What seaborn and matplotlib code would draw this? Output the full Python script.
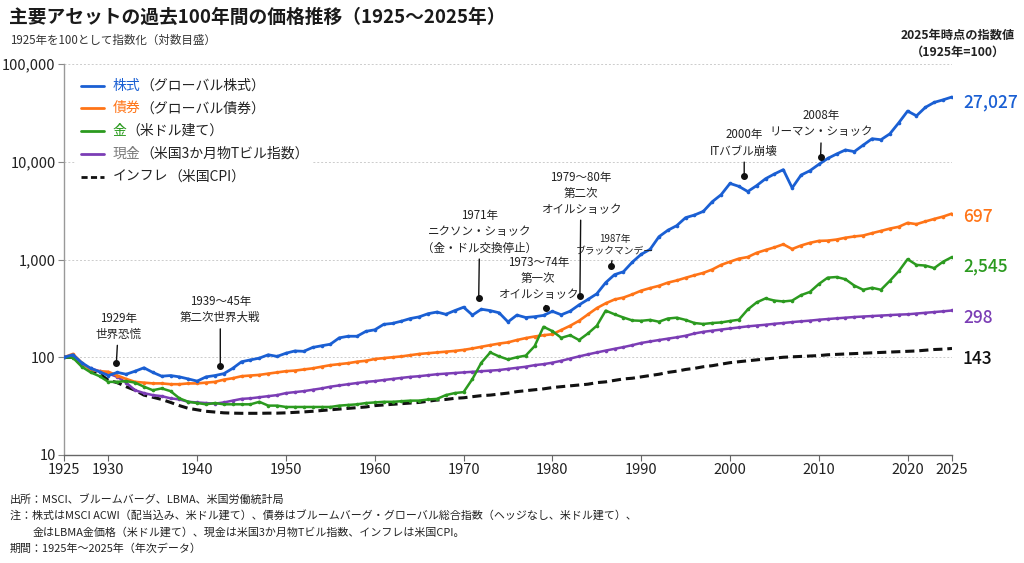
"""Major asset classes over 100 years, index 1925 = 100 (log scale)."""
import matplotlib

matplotlib.use("Agg")
import matplotlib.pyplot as plt
import matplotlib.ticker as mticker
import pandas as pd
import seaborn as sns
from matplotlib.lines import Line2D
from matplotlib.offsetbox import AnchoredOffsetbox, DrawingArea, HPacker, TextArea, VPacker

# --------------------------------------------------------------------------- #
# Data (annual points)
# --------------------------------------------------------------------------- #
years = list(range(1925, 2026))

stocks = [
    100, 106, 88, 77, 71, 65, 70, 67, 72, 78,
    70, 64, 65, 63, 60, 57, 63, 65, 68, 77,
    90, 94, 98, 106, 102, 110, 116, 115, 126, 131,
    136, 158, 164, 164, 184, 191, 217, 222, 234, 249,
    259, 279, 290, 275, 300, 325, 270, 310, 300, 285,
    230, 270, 255, 260, 268, 295, 272, 296, 343, 390,
    446, 580, 700, 750, 940, 1130, 1270, 1710, 1990, 2220,
    2680, 2850, 3110, 3900, 4600, 6000, 5600, 4960, 5700, 6700,
    7500, 8300, 5400, 7300, 8100, 9400, 10800, 12000, 13200, 12700,
    14800, 17200, 16800, 19300, 25000, 33000, 29500, 36000, 40500, 43000,
    46000,
]
bonds = [
    100, 108, 88, 74, 72, 71, 65, 60, 56, 55,
    54, 54, 53, 53, 54, 54, 55, 56, 59, 61,
    64, 65, 66, 68, 70, 72, 73, 75, 77, 80,
    83, 85, 87, 90, 92, 96, 98, 100, 102, 105,
    108, 110, 112, 114, 116, 119, 123, 128, 133, 138,
    142, 150, 157, 163, 168, 172, 190, 210, 236, 274,
    318, 356, 390, 408, 440, 480, 510, 538, 580, 610,
    650, 690, 730, 790, 880, 950, 1020, 1060, 1170, 1250,
    1330, 1430, 1280, 1390, 1480, 1550, 1560, 1600, 1670, 1720,
    1760, 1860, 1960, 2070, 2160, 2370, 2300, 2450, 2600, 2750,
    2950,
]
gold = [
    100, 99, 80, 70, 64, 56, 56, 57, 55, 50,
    46, 48, 45, 38, 35, 34, 33, 34, 33, 33,
    33, 33, 35, 32, 32, 31, 31, 31, 31, 31,
    31, 32, 32.5, 33, 34, 34.5, 35, 35, 35.5, 36,
    36, 37, 37.5, 41, 43, 44, 60, 88, 112, 102,
    95, 100, 104, 130, 205, 185, 158, 168, 150, 175,
    210, 300, 275, 255, 238, 236, 241, 231, 249, 254,
    241, 224, 219, 224, 227, 235, 242, 308, 364, 400,
    380, 372, 380, 432, 466, 561, 652, 662, 628, 541,
    490, 514, 490, 605, 758, 1008, 880, 867, 817, 950,
    1060,
]
cash = [
    100, 104, 84, 77, 72, 68, 63, 55, 46, 43,
    41, 40, 38, 37, 35, 34.5, 34, 33.5, 34.5, 36,
    37.5, 38, 39, 40, 41, 43, 44, 45, 46.5, 48,
    50, 51.5, 53, 54.5, 56, 57, 58.5, 60, 61.5, 63,
    64, 65.5, 67, 68, 69, 70, 71, 72, 73, 74,
    76, 78, 80, 83, 85, 88, 92, 97, 102, 107,
    112, 117, 122, 127, 133, 140, 145, 150, 155, 160,
    166, 175, 182, 187, 192, 197, 202, 207, 211, 215,
    220, 224, 229, 233, 237, 242, 246, 250, 254, 258,
    261, 264, 267, 270, 273, 275, 280, 285, 290, 295,
    301,
]
cpi = [
    100, 100, 84, 74, 68, 58, 55, 50, 46, 41,
    39, 37, 34.5, 32, 30, 29, 28, 27.5, 27, 26.8,
    26.7, 26.7, 26.7, 26.8, 26.8, 27, 27.3, 27.6, 28, 28.5,
    29, 29.5, 30, 30.5, 31, 32, 32.5, 33, 33.5, 34,
    34.5, 35.5, 36.5, 37, 38, 38.5, 39.5, 40.5, 41, 42,
    43, 44.5, 45.5, 46.5, 47.5, 49, 50, 51, 52, 53,
    55, 56, 58, 60, 61, 63, 65, 67, 70, 72,
    75, 77, 80, 82, 85, 88, 90, 92, 94, 96,
    98, 100, 101, 102, 103, 104, 106, 107, 108, 109,
    110, 111, 112, 113, 114, 115, 116, 118, 120, 121,
    123,
]

series_keys = ["cpi", "cash", "bonds", "gold", "stocks"]
series_values = {"stocks": stocks, "bonds": bonds, "gold": gold, "cash": cash, "cpi": cpi}

legend_keys = ["stocks", "bonds", "gold", "cash", "cpi"]
legend_words = ["株式", "債券", "金", "現金", "インフレ"]
legend_rest = ["（グローバル株式）", "（グローバル債券）", "（米ドル建て）",
               "（米国3か月物Tビル指数）", "（米国CPI）"]

# value labels printed at the right edge (as printed in the source)
end_labels = ["27,027", "697", "2,545", "298", "143"]

ann_labels = [
    "1929年\n世界恐慌",
    "1939〜45年\n第二次世界大戦",
    "1971年\nニクソン・ショック\n（金・ドル交換停止）",
    "1973〜74年\n第一次\nオイルショック",
    "1979〜80年\n第二次\nオイルショック",
    "1987年\nブラックマンデー",
    "2000年\nITバブル崩壊",
    "2008年\nリーマン・ショック",
]
ann_years = [1930.9, 1942.6, 1971.7, 1979.3, 1983.1, 1986.6, 2001.6, 2010.2]
ann_values = [88, 81, 400, 320, 428, 860, 7070, 11100]

x_major = [1925, 1930, 1940, 1950, 1960, 1970, 1980, 1990, 2000, 2010, 2020, 2025]
x_minor = [1927.5, 1935, 1945, 1955, 1965, 1975, 1985, 1995, 2005, 2015, 2022.5]
y_major = [10, 100, 1000, 10000, 100000]

# --------------------------------------------------------------------------- #
# Styles / layout
# --------------------------------------------------------------------------- #
colors = {"stocks": "#1a5fd3", "bonds": "#ff7417", "gold": "#2b9a1f",
          "cash": "#7b3db5", "cpi": "#111111"}
word_colors = {"stocks": "#1a5fd3", "bonds": "#ff7417", "gold": "#2b9a1f",
               "cash": "#7a7a7a", "cpi": "#222222"}
styles = {"cpi": (0, (3.0, 1.6))}
widths = {"stocks": 2.0, "bonds": 1.9, "gold": 1.8, "cash": 1.8, "cpi": 2.2}
end_label_y = [102, 217, 266, 318, 359]          # px from top
ann_stem_px = [22, 42, 44, 7, 80, 10, 19, 19]      # dot -> text bottom
ann_dx_px = [2, 0, 1, -8, 1, 4, 0, 1]
ann_size = [8.3, 8.3, 8.3, 8.3, 8.3, 7.0, 8.3, 8.3]
TXT = "#222222"

W, H = 1024, 563


def fx(px):
    return px / W


def fy(py):
    return 1 - py / H


sns.set_theme(style="white")
plt.rcParams["font.family"] = ["Noto Sans CJK JP", "DejaVu Sans"]

fig = plt.figure(figsize=(W / 100, H / 100), dpi=100)
fig.patch.set_facecolor("white")
ax = fig.add_axes([fx(64), fy(455), fx(952 - 64), (455 - 64) / H])

df = pd.DataFrame({"year": years, **series_values})
for key in series_keys:
    sns.lineplot(data=df, x="year", y=key, ax=ax, color=colors[key],
                 linewidth=widths[key], linestyle=styles.get(key, "-"),
                 marker="o" if key != "cpi" else None, markersize=2.6,
                 markeredgewidth=0, zorder=3 + series_keys.index(key))

ax.set_yscale("log")
ax.set_ylim(10, 100000)
ax.set_xlim(1925, 2025)
ax.set_xlabel("")
ax.set_ylabel("")
ax.yaxis.set_major_locator(mticker.FixedLocator(y_major))
ax.yaxis.set_minor_locator(mticker.NullLocator())
ax.yaxis.set_major_formatter(mticker.FuncFormatter(lambda v, _: f"{v:,.0f}"))
ax.xaxis.set_major_locator(mticker.FixedLocator(x_major))
ax.xaxis.set_minor_locator(mticker.FixedLocator(x_minor))
ax.xaxis.set_major_formatter(mticker.FuncFormatter(lambda v, _: f"{v:.0f}"))
ax.tick_params(axis="both", labelsize=10.5, colors="#333333", length=4,
               width=0.8, direction="out", pad=2)
ax.tick_params(axis="x", which="minor", length=4, width=0.8, color="#666666")
ax.tick_params(axis="y", left=True, color="#888888")
ax.tick_params(axis="x", bottom=True, color="#666666")
for lab in ax.get_xticklabels() + ax.get_yticklabels():
    lab.set_color("#222222")

for s in ["top", "right"]:
    ax.spines[s].set_visible(False)
ax.spines["left"].set_color("#999999")
ax.spines["bottom"].set_color("#666666")
ax.spines["left"].set_linewidth(1.0)
ax.spines["bottom"].set_linewidth(1.0)
for v in y_major[1:]:
    ax.axhline(v, color="#cccccc", lw=0.7, ls=(0, (2, 2)), zorder=1)

# event annotations
for lab, yr, val, stem, dx, fs in zip(ann_labels, ann_years, ann_values,
                                      ann_stem_px, ann_dx_px, ann_size):
    ax.plot([yr], [val], "o", color="#111111", ms=4, zorder=10)
    ax.annotate(lab, xy=(yr, val), xytext=(dx * 0.72, stem * 0.72),
                textcoords="offset points", ha="center", va="bottom",
                fontsize=fs, color=TXT, linespacing=1.3, zorder=10,
                arrowprops=dict(arrowstyle="-", color="#111111", lw=1.0,
                                shrinkA=1, shrinkB=0))

# legend with coloured asset names
rows = []
for key, word, rest in zip(legend_keys, legend_words, legend_rest):
    da = DrawingArea(17, 8, 0, 0)
    da.add_artist(Line2D([0, 17], [4, 4], color=colors[key], lw=2.0,
                         linestyle=(0, (2.2, 1.2)) if key == "cpi" else "-"))
    t1 = TextArea(word, textprops=dict(color=word_colors[key], fontsize=10))
    t2 = TextArea(rest, textprops=dict(color=TXT, fontsize=10))
    rows.append(HPacker(children=[da, HPacker(children=[t1, t2], pad=0, sep=0)],
                        align="center", pad=0, sep=6))
legend_box = AnchoredOffsetbox(loc="upper left",
                               child=VPacker(children=rows, align="left", pad=0, sep=6.3),
                               pad=0.3, borderpad=0, frameon=True,
                               bbox_to_anchor=(fx(76), fy(74)),
                               bbox_transform=fig.transFigure)
legend_box.patch.set_facecolor("white")
legend_box.patch.set_edgecolor("none")
legend_box.zorder = 12
ax.add_artist(legend_box)

# right-hand value labels
for key, lab, ypx in zip(legend_keys, end_labels, end_label_y):
    fig.text(fx(963), fy(ypx), lab, color=colors[key] if key != "cpi" else "#111111",
             fontsize=12.5, fontweight="medium", ha="left", va="center")
fig.text(fx(958), fy(35), "2025年時点の指数値", fontsize=8.8, fontweight="bold",
         color=TXT, ha="center", va="center")
fig.text(fx(958), fy(52), "（1925年=100）", fontsize=8.8, fontweight="bold",
         color=TXT, ha="center", va="center")

# titles
fig.text(fx(9), fy(17), "主要アセットの過去100年間の価格推移（1925〜2025年）",
         fontsize=13.5, fontweight="bold", color="#1a1a1a", ha="left", va="center")
fig.text(fx(10), fy(40), "1925年を100として指数化（対数目盛）", fontsize=8.3,
         color="#333333", ha="left", va="center")

# footnotes
notes = [
    (10, 499, "出所：MSCI、ブルームバーグ、LBMA、米国労働統計局"),
    (10, 516, "注：株式はMSCI ACWI（配当込み、米ドル建て）、債券はブルームバーグ・グローバル総合指数（ヘッジなし、米ドル建て）、"),
    (33, 532, "金はLBMA金価格（米ドル建て）、現金は米国3か月物Tビル指数、インフレは米国CPI。"),
    (10, 549, "期間：1925年〜2025年（年次データ）"),
]
for xp, yp, t in notes:
    fig.text(fx(xp), fy(yp), t, fontsize=7.9, color="#222222", ha="left", va="center")

fig.savefig("out.png", dpi=100, facecolor="white")
plt.close(fig)
